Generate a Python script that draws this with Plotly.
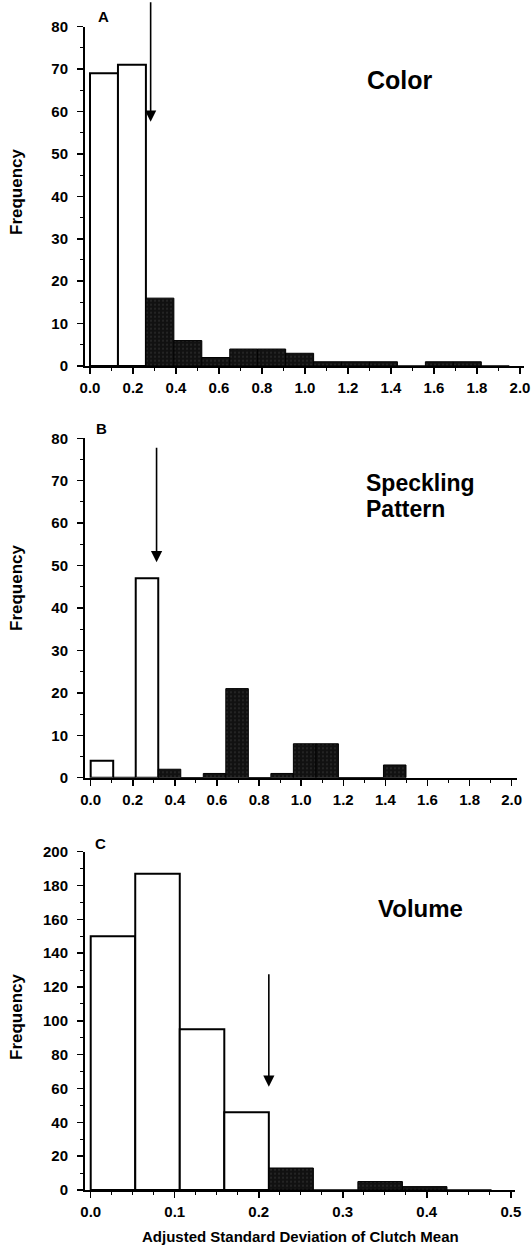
import plotly.graph_objects as go

W, H = 531, 1248
FONT = "Liberation Sans, Arial, Helvetica, sans-serif"

# ---------------- data ----------------
# Panel A: Color
a_bin_left = [0.00, 0.13, 0.26, 0.39, 0.52, 0.65, 0.78, 0.91, 1.04, 1.17, 1.30, 1.43, 1.56, 1.69, 1.82]
a_bin_width = 0.13
a_counts = [69, 71, 16, 6, 2, 4, 4, 3, 1, 1, 1, 0, 1, 1, 0]
a_n_open = 2
a_arrow_x, a_arrow_y = 0.282, 57.6

# Panel B: Speckling pattern
b_bin_left = [0.000, 0.107, 0.214, 0.321, 0.428, 0.535, 0.642, 0.749, 0.856, 0.963, 1.070, 1.177, 1.284, 1.391]
b_bin_width = 0.107
b_counts = [4, 0, 47, 2, 0, 1, 21, 0, 1, 8, 8, 0, 0, 3]
b_n_open = 3
b_arrow_x, b_arrow_y = 0.313, 50.8

# Panel C: Volume
c_bin_left = [0.000, 0.053, 0.106, 0.159, 0.212, 0.265, 0.318, 0.371, 0.424]
c_bin_width = 0.053
c_counts = [150, 187, 95, 46, 13, 0, 5, 2, 0]
c_n_open = 4
c_arrow_x, c_arrow_y = 0.212, 61.0

# ---------------- layout geometry (pixels) ----------------
panels = [
    dict(lefts=a_bin_left, w=a_bin_width, counts=a_counts, n_open=a_n_open, arrow=(a_arrow_x, a_arrow_y),
         ymax=80, ydt=10, ymin_dt=5, xdt=0.2, xmin_dt=0.1, xr=(-0.0233, 2.0186), xpx=(85, 524), ypx=(26.7, 366),
         alen=121, letter="A", letter_px=(103, 17)),
    dict(lefts=b_bin_left, w=b_bin_width, counts=b_counts, n_open=b_n_open, arrow=(b_arrow_x, b_arrow_y),
         ymax=80, ydt=10, ymin_dt=5, xdt=0.2, xmin_dt=0.1, xr=(-0.027, 2.024), xpx=(85, 516.7), ypx=(438.3, 777.7),
         alen=116, letter="B", letter_px=(101, 428)),
    dict(lefts=c_bin_left, w=c_bin_width, counts=c_counts, n_open=c_n_open, arrow=(c_arrow_x, c_arrow_y),
         ymax=200, ydt=20, ymin_dt=10, xdt=0.1, xmin_dt=0.025, xr=(-0.0068, 0.505), xpx=(85, 515), ypx=(851.7, 1190),
         alen=114, letter="C", letter_px=(100, 843)),
]

fig = go.Figure()
annotations = []

def px_x(p):
    return p / W

def px_y(p):
    return 1 - p / H

for i, p in enumerate(panels):
    k = "" if i == 0 else str(i + 1)
    xa, ya = "x" + k, "y" + k
    centers = [l + p["w"] / 2 for l in p["lefts"]]
    n = p["n_open"]
    fig.add_trace(go.Bar(
        x=centers[:n], y=p["counts"][:n], width=[p["w"]] * n,
        marker=dict(color="white", line=dict(color="black", width=2)),
        xaxis=xa, yaxis=ya, showlegend=False, hoverinfo="skip",
    ))
    fig.add_trace(go.Bar(
        x=centers[n:], y=p["counts"][n:], width=[p["w"]] * (len(centers) - n),
        marker=dict(color="#111111", line=dict(color="black", width=1),
                    pattern=dict(shape=".", fgcolor="#6a6a6a", bgcolor="#111111", size=4, solidity=0.12)),
        xaxis=xa, yaxis=ya, showlegend=False, hoverinfo="skip",
    ))
    axis_common = dict(showline=True, linecolor="black", linewidth=2, showgrid=False, zeroline=False,
                       ticks="outside", ticklen=6, tickwidth=1.5, tickcolor="black", automargin=False,
                       tickfont=dict(family=FONT, size=15, color="black", weight="bold"))
    xkey = "xaxis" + k
    ykey = "yaxis" + k
    fig.layout[xkey] = dict(
        domain=[px_x(p["xpx"][0]), px_x(p["xpx"][1])], range=list(p["xr"]), anchor=ya,
        dtick=p["xdt"], tick0=0, tickformat=".1f",
        minor=dict(dtick=p["xmin_dt"], tick0=0, ticks="outside", ticklen=3, tickcolor="black", tickwidth=1),
        ticklabelstandoff=1, **axis_common)
    fig.layout[ykey] = dict(
        domain=[px_y(p["ypx"][1]), px_y(p["ypx"][0])], range=[0, p["ymax"]], anchor=xa,
        dtick=p["ydt"], tick0=0,
        minor=dict(dtick=p["ymin_dt"], tick0=0, ticks="outside", ticklen=3, tickcolor="black", tickwidth=1),
        ticklabelstandoff=6, **axis_common)
    ax_, ay_ = p["arrow"]
    annotations.append(dict(x=ax_, y=ay_, xref=xa, yref=ya, ax=0, ay=-p["alen"], axref="pixel", ayref="pixel",
                            text="", showarrow=True, arrowhead=2, arrowsize=1.4, arrowwidth=1.6,
                            arrowcolor="black", standoff=0))
    annotations.append(dict(x=px_x(p["letter_px"][0]), y=px_y(p["letter_px"][1]), xref="paper", yref="paper",
                            text="<b>%s</b>" % p["letter"], showarrow=False, xanchor="center", yanchor="middle",
                            font=dict(family=FONT, size=15, color="black")))

def label(text, xp, yp, size, xanchor="center", angle=0):
    annotations.append(dict(x=px_x(xp), y=px_y(yp), xref="paper", yref="paper", text="<b>%s</b>" % text,
                            showarrow=False, xanchor=xanchor, yanchor="middle", textangle=angle,
                            font=dict(family=FONT, size=size, color="black")))

label("Color", 400, 80, 25)
label("Speckling", 364, 483, 23, xanchor="left")
label("Pattern", 364, 509, 23, xanchor="left")
label("Volume", 420, 908, 24)
for yc in (192, 588, 1017):
    label("Frequency", 16, yc, 17, angle=-90)
label("Adjusted Standard Deviation of Clutch Mean", 300, 1236, 15)

fig.update_layout(
    width=W, height=H, margin=dict(l=0, r=0, t=0, b=0, autoexpand=False),
    paper_bgcolor="white", plot_bgcolor="white",
    barmode="overlay", bargap=0, annotations=annotations,
    font=dict(family=FONT, color="black"), hovermode=False,
)

fig.write_html("out.html", config={"displayModeBar": False, "staticPlot": True},
               post_script="document.body.style.margin='0';document.body.style.padding='0';"
                           "document.documentElement.style.overflow='hidden';")
